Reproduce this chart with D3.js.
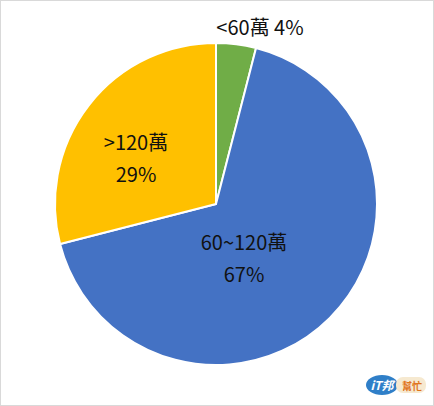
<!DOCTYPE html>
<html>
<head>
<meta charset="utf-8">
<script src="https://cdn.jsdelivr.net/npm/d3@7"></script>
<style>
  html, body { margin: 0; padding: 0; background: #fff; }
  svg { display: block; }
</style>
</head>
<body>
<svg id="chart" width="434" height="406"></svg>
<script>
const categories = ["<60萬", "60~120萬", ">120萬"];
const values = [4, 67, 29];
const colors = ["#70AD47", "#4472C4", "#FFC000"];

const W = 434, H = 406;
const cx = 216, cy = 204, R = 161;
const svg = d3.select("#chart");

svg.append("rect").attr("x", 0.5).attr("y", 0.5).attr("width", W - 1).attr("height", H - 1)
  .attr("fill", "#fff").attr("stroke", "#d9d9d9");

const data = categories.map((c, i) => ({ cat: c, value: values[i], color: colors[i] }));
const pie = d3.pie().value(d => d.value).sort(null);
const arcs = pie(data);
const arc = d3.arc().innerRadius(0).outerRadius(R);

const g = svg.append("g").attr("transform", `translate(${cx},${cy})`);
g.selectAll("path").data(arcs).join("path")
  .attr("d", arc)
  .attr("fill", d => d.data.color)
  .attr("stroke", "#fff")
  .attr("stroke-width", 2)
  .attr("stroke-linejoin", "round");

const font = "'Noto Sans CJK TC', 'Noto Sans', sans-serif";
const total = d3.sum(values);
const pct = v => Math.round(v / total * 100) + "%";

// label positions (offsets from centre)
const labelPos = [
  { x: 44, y: -176, single: true },
  { x: 28, y: 39 },
  { x: -80, y: -61 }
];

arcs.forEach((a, i) => {
  const p = labelPos[i];
  const t = svg.append("text")
    .attr("font-family", font).attr("font-size", 20).attr("fill", "#111")
    .attr("text-anchor", "middle");
  if (p.single) {
    t.attr("x", cx + p.x).attr("y", cy + p.y + 7).text(a.data.cat + " " + pct(a.data.value));
  } else {
    t.append("tspan").attr("x", cx + p.x).attr("y", cy + p.y + 7).text(a.data.cat);
    t.append("tspan").attr("x", cx + p.x).attr("y", cy + p.y + 39).text(pct(a.data.value));
  }
});

// watermark approximation
const wm = svg.append("g").attr("transform", "translate(368,381)");
wm.append("ellipse").attr("cx", 14).attr("cy", 4).attr("rx", 16).attr("ry", 10).attr("fill", "#2f7fc8");
wm.append("rect").attr("x", 28).attr("y", -4).attr("width", 30).attr("height", 16).attr("rx", 7).attr("fill", "#f6e9d0");
wm.append("text").attr("x", 14).attr("y", 9).attr("text-anchor", "middle").attr("font-family", font)
  .attr("font-size", 12).attr("font-weight", "bold").attr("font-style", "italic").attr("fill", "#fff").text("iT邦");
wm.append("text").attr("x", 44).attr("y", 9).attr("text-anchor", "middle").attr("font-family", font)
  .attr("font-size", 10).attr("font-weight", "bold").attr("fill", "#e0741c").text("幫忙");
</script>
</body>
</html>
